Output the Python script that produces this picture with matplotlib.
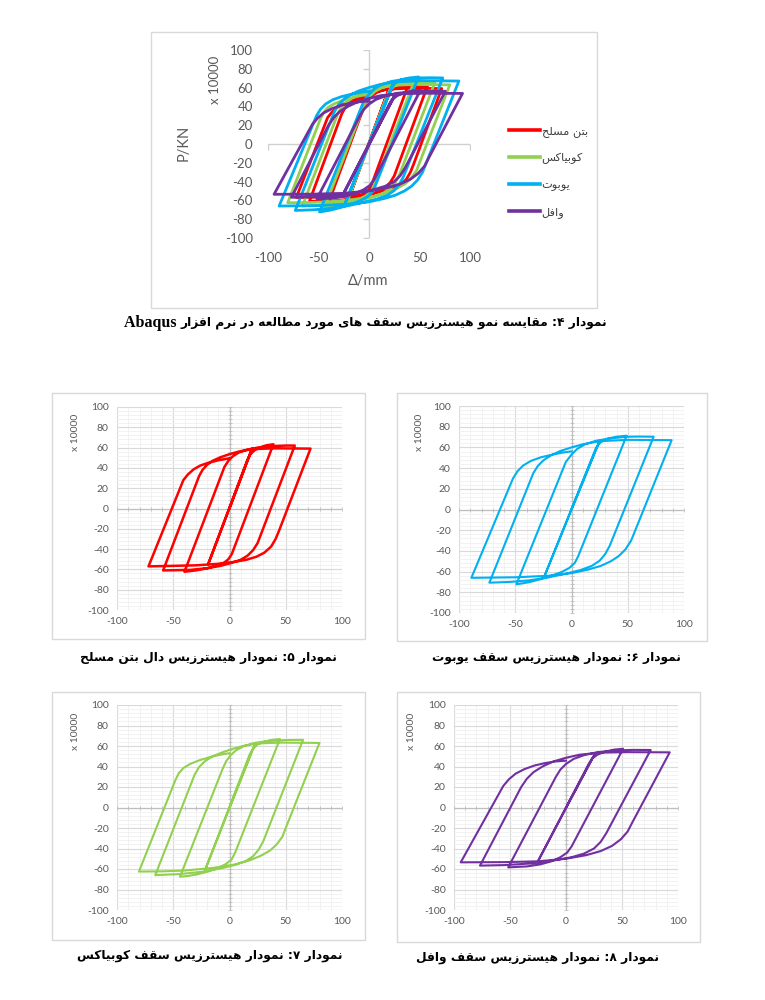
import matplotlib
matplotlib.use("Agg")
import matplotlib.pyplot as plt
import numpy as np
from matplotlib.patches import Rectangle

# ---- data (displacement mm, force x 10000) ----
red_path = [
    (0, 0), (20, 59), (-19, -55),
    (16, 48), (19, 54), (23, 58), (28, 60.5), (33, 62.3), (39, 63.3),
    (2, -45), (-1, -50), (-5, -53.5), (-12, -56.5), (-20, -59), (-30, -61), (-40, -62.3),
    (-4.5, 41), (-1, 47), (3, 51.5), (8, 55), (15, 57.8), (25, 60), (39, 61.5), (50, 62), (58, 62),
    (25, -34), (21, -41), (16, -46.5), (10, -50.5), (2, -53.5), (-8, -56.5), (-20, -58.8), (-35, -60.5), (-59, -61),
    (-27, 32), (-24, 38), (-20, 43), (-15, 47), (-8, 50.5), (0, 53.5), (8, 56), (20, 58.5), (40, 59.3), (72, 59),
    (44, -22), (41, -30), (37, -37.5), (31, -43.5), (24, -47.5), (15, -50.5), (5, -52.5), (-10, -54.5), (-30, -56), (-50, -56.5), (-72, -57),
    (-41, 28), (-37, 33.5), (-32, 38.5), (-26, 42.3), (-19, 45), (-10, 47.5), (0, 49.5),
]
green_path = [
    (0, 0), (22.6, 62), (-21.7, -61),
    (18, 52), (21, 57.5), (25, 61.5), (31, 64.3), (38, 66), (44.8, 66.8),
    (5, -44), (2, -50.5), (-3, -55), (-10, -59), (-19, -62.5), (-29, -65.3), (-37, -66.8), (-44, -67.5),
    (-6, 38), (-3, 45), (1, 51), (6, 56), (13, 60), (22, 63), (35, 65), (50, 65.8), (65.4, 66),
    (30, -33), (26, -41), (21, -47.5), (14, -52.5), (5, -56), (-8, -59.5), (-25, -62.8), (-45, -65), (-66, -66),
    (-31, 32), (-27, 39.5), (-22, 45), (-15, 50), (-7, 53.5), (2, 57), (12, 60), (25, 62.5), (45, 63.3), (80, 63),
    (50, -20), (47, -28.5), (42, -36), (36, -42), (28, -47), (18, -51.5), (5, -55.5), (-15, -59), (-40, -61.5), (-60, -62.3), (-80.5, -62.5),
    (-48, 27), (-45, 33.5), (-41, 38.5), (-35, 42.5), (-27, 46), (-18, 49), (-9, 51.3), (0, 53),
]
cyan_path = [
    (0, 0), (25, 66.5), (-24, -64.3),
    (19, 52), (22, 60), (26, 65), (32, 68.5), (40, 70.3), (49, 71.3),
    (6, -45), (3, -51.5), (-2, -56.5), (-9, -60.5), (-18, -64), (-28, -67.5), (-38, -70.3), (-49, -72.3),
    (-8, 38), (-5, 46), (0, 53), (5, 58.5), (12, 63), (22, 66.5), (35, 68.8), (50, 70.3), (60, 70.5), (73, 70.3),
    (34, -35), (30, -43), (25, -49.5), (18, -54.5), (8, -58.5), (-5, -62), (-20, -65.5), (-38, -68.5), (-55, -70), (-73, -70.7),
    (-34, 35), (-30, 42), (-25, 47.5), (-18, 52.5), (-10, 56.5), (0, 60), (10, 63), (25, 66), (50, 67.3), (89, 67),
    (56, -22), (53, -30), (48, -38.5), (42, -45), (35, -50), (26, -54.5), (15, -58), (0, -61.5), (-20, -64), (-50, -65.5), (-89, -66),
    (-52, 30), (-48, 37), (-43, 42.5), (-36, 47), (-27, 50.5), (-17, 53), (-8, 55), (0, 56.2),
]
purple_path = [
    (0, 0), (25.7, 52.2), (-24.8, -51.9),
    (20, 42), (23, 47.5), (28, 51.5), (35, 54.5), (43, 56.5), (51, 57.3),
    (5, -38), (1, -44), (-5, -48.5), (-13, -52.5), (-23, -55.5), (-35, -57.5), (-51.6, -58.4),
    (-9, 30), (-5, 37), (0, 42.5), (7, 47.5), (16, 51), (28, 54), (45, 55.7), (60, 56.2), (75.6, 56.1),
    (36, -25), (31, -33.5), (25, -40), (16, -45), (5, -48.5), (-10, -51.5), (-30, -54.5), (-55, -56.2), (-76.8, -56.7),
    (-40, 20), (-35, 28), (-29, 34.5), (-21, 40), (-11, 45), (0, 48.5), (12, 51.5), (30, 53.5), (55, 54), (92.6, 53.8),
    (59, -15), (55, -23.5), (49, -31), (41, -37.5), (31, -42.5), (18, -46.5), (0, -50), (-25, -52.5), (-55, -53.3), (-94, -53.5),
    (-56, 21), (-51, 27.5), (-45, 33), (-37, 37.5), (-28, 41), (-18, 43.5), (-9, 45), (0, 45.7),
]

series_names = ["بتن مسلح", "کوبیاکس", "یوبوت", "وافل"]
series_colors = ["#ff0000", "#92d050", "#00b0f0", "#7030a0"]
series_paths = [red_path, green_path, cyan_path, purple_path]

x_major = [-100, -50, 0, 50, 100]
x_minor = list(range(-100, 101, 10))
y_major = list(range(-100, 101, 20))
y_minor = list(range(-100, 101, 4))

caption_top = "نمودار ۴: مقایسه نمو هیسترزیس سقف های مورد مطالعه در نرم افزار"
caption_5 = "نمودار ۵: نمودار هیسترزیس دال بتن مسلح"
caption_6 = "نمودار ۶: نمودار هیسترزیس سقف یوبوت"
caption_7 = "نمودار ۷: نمودار هیسترزیس سقف کوبیاکس"
caption_8 = "نمودار ۸: نمودار هیسترزیس سقف وافل"

# ---- minimal Persian shaping (presentation forms + visual order) ----
FORMS = {
    'ا': ('\uFE8D', '\uFE8E', None, None),
    'ب': ('\uFE8F', '\uFE90', '\uFE91', '\uFE92'),
    'ت': ('\uFE95', '\uFE96', '\uFE97', '\uFE98'),
    'ح': ('\uFEA1', '\uFEA2', '\uFEA3', '\uFEA4'),
    'د': ('\uFEA9', '\uFEAA', None, None),
    'ر': ('\uFEAD', '\uFEAE', None, None),
    'ز': ('\uFEAF', '\uFEB0', None, None),
    'س': ('\uFEB1', '\uFEB2', '\uFEB3', '\uFEB4'),
    'ط': ('\uFEC1', '\uFEC2', '\uFEC3', '\uFEC4'),
    'ع': ('\uFEC9', '\uFECA', '\uFECB', '\uFECC'),
    'ف': ('\uFED1', '\uFED2', '\uFED3', '\uFED4'),
    'ق': ('\uFED5', '\uFED6', '\uFED7', '\uFED8'),
    'ل': ('\uFEDD', '\uFEDE', '\uFEDF', '\uFEE0'),
    'م': ('\uFEE1', '\uFEE2', '\uFEE3', '\uFEE4'),
    'ن': ('\uFEE5', '\uFEE6', '\uFEE7', '\uFEE8'),
    'ه': ('\uFEE9', '\uFEEA', '\uFEEB', '\uFEEC'),
    'و': ('\uFEED', '\uFEEE', None, None),
    'ک': ('\uFB8E', '\uFB8F', '\uFB90', '\uFB91'),
    'ی': ('\uFBFC', '\uFBFD', '\uFBFE', '\uFBFF'),
}


def fa(text):
    out = []
    for i, ch in enumerate(text):
        forms = FORMS.get(ch)
        if forms is None:
            out.append(ch)
            continue
        prev = text[i - 1] if i > 0 else ''
        nxt = text[i + 1] if i < len(text) - 1 else ''
        jp = prev in FORMS and FORMS[prev][2] is not None
        jn = forms[2] is not None and nxt in FORMS
        if jp and jn:
            out.append(forms[3])
        elif jp:
            out.append(forms[1])
        elif jn:
            out.append(forms[2])
        else:
            out.append(forms[0])
    return ''.join(reversed(out))


W, H = 765, 1000
plt.rcParams['font.family'] = ['Lato', 'DejaVu Sans']
plt.rcParams['axes.unicode_minus'] = False
fig = plt.figure(figsize=(W / 100, H / 100), dpi=100)
GRAY = '#595959'
FA_FONT = ['DejaVu Sans']
CAP_SIZE = 8.8


def px_rect(x0, y0, x1, y1):
    return [x0 / W, 1 - y1 / H, (x1 - x0) / W, (y1 - y0) / H]


def border(x0, y0, x1, y1):
    fig.patches.append(Rectangle((x0 / W, 1 - y1 / H), (x1 - x0) / W, (y1 - y0) / H,
                                 transform=fig.transFigure, fill=False,
                                 edgecolor='#d9d9d9', lw=1.0))


def fig_text(x, y, s, **kw):
    return fig.text(x / W, 1 - y / H, s, **kw)


def base_axes(rect, fs, pad_x, pad_y):
    ax = fig.add_axes(px_rect(*rect))
    ax.set_xlim(-100, 100)
    ax.set_ylim(-100, 100)
    ax.set_xticks(x_major)
    ax.set_yticks(y_major)
    for s in ax.spines.values():
        s.set_visible(False)
    ax.tick_params(which='both', length=0, labelsize=fs, labelcolor=GRAY)
    ax.tick_params(axis='x', pad=pad_x)
    ax.tick_params(axis='y', pad=pad_y)
    ax.patch.set_alpha(0)
    return ax


# ---- top comparison chart ----
border(151, 32, 597, 308)
ax = base_axes((268, 50, 470, 238), 9.5, 10, 11)
ax.axhline(0, color='#d0d0d0', lw=1, zorder=1)
ax.axvline(0, color='#d0d0d0', lw=1, zorder=1)
ax.plot(np.zeros(len(y_major)), y_major, ls='', marker=0, ms=4, mew=1, color='#d0d0d0')
ax.plot(x_major, np.zeros(len(x_major)), ls='', marker=3, ms=4, mew=1, color='#d0d0d0')
handles = []
for name, col, path in zip(series_names, series_colors, series_paths):
    p = np.array(path)
    ln, = ax.plot(p[:, 0], p[:, 1], color=col, lw=2.0, solid_joinstyle='round', zorder=3)
    handles.append(ln)
leg = ax.legend(handles, [fa(n) for n in series_names], loc='upper left',
                bbox_to_anchor=(499 / W, 1 - 116 / H), bbox_transform=fig.transFigure,
                frameon=False, handlelength=2.7, handletextpad=0.15, labelspacing=1.38,
                prop={'family': FA_FONT, 'size': 8.2})
for t in leg.get_texts():
    t.set_color('#404040')
for h in leg.legend_handles:
    h.set_linewidth(2.6)
fig_text(215, 80, 'x 10000', rotation=90, ha='center', va='center', fontsize=9.5, color=GRAY)
fig_text(184, 143, 'P/KN', rotation=90, ha='center', va='center', fontsize=10.5, color=GRAY)
fig_text(368, 281, 'Δ/mm', ha='center', va='center', fontsize=10.5, color=GRAY)

cap = fig_text(607, 322, fa(caption_top), ha='right', va='center', fontsize=CAP_SIZE,
               weight='bold', family=FA_FONT)
fig.add_artist(plt.Annotation('Abaqus ', xy=(0, 0.45), xycoords=cap, ha='right', va='center',
                              fontsize=11.5, weight='bold', family=['Liberation Serif'],
                              annotation_clip=False))


# ---- four single-series panels ----
def panel(rect, box, path, col, lw, ylab_xy):
    border(*box)
    ax = base_axes(rect, 7.5, 5, 6)
    ax.set_xticks(x_minor, minor=True)
    ax.set_yticks(y_minor, minor=True)
    ax.grid(which='minor', color='#f0f0f0', lw=0.6, zorder=0)
    ax.grid(which='major', color='#d9d9d9', lw=0.8, zorder=0)
    ax.set_axisbelow(True)
    ax.axhline(0, color='#bfbfbf', lw=0.9, zorder=1)
    ax.axvline(0, color='#bfbfbf', lw=0.9, zorder=1)
    ax.plot(np.zeros(len(y_minor)), y_minor, ls='', marker='_', ms=3, mew=0.6, color='#bfbfbf', zorder=1)
    ax.plot(x_minor, np.zeros(len(x_minor)), ls='', marker='|', ms=3, mew=0.6, color='#bfbfbf', zorder=1)
    p = np.array(path)
    ax.plot(p[:, 0], p[:, 1], color=col, lw=lw, solid_joinstyle='round', zorder=3)
    fig_text(ylab_xy[0], ylab_xy[1], 'x 10000', rotation=90, ha='center', va='center',
             fontsize=7.5, color=GRAY)
    return ax


panel((117, 407, 342, 610), (52, 393, 365, 639), red_path, series_colors[0], 1.8, (75, 432))
panel((459, 406, 684, 613), (397, 393, 707, 641), cyan_path, series_colors[2], 1.5, (419, 432))
panel((117, 705, 342, 910), (52, 692, 365, 940), green_path, series_colors[1], 1.5, (75, 731))
panel((454, 705, 678, 910), (397, 692, 700, 942), purple_path, series_colors[3], 1.5, (412, 731))

for s, x, y in [(caption_5, 208, 657), (caption_6, 556, 657),
                (caption_7, 210, 955), (caption_8, 537, 957)]:
    fig_text(x, y, fa(s), ha='center', va='center', fontsize=CAP_SIZE, weight='bold', family=FA_FONT)

fig.savefig('out.png', dpi=100, facecolor='white')
